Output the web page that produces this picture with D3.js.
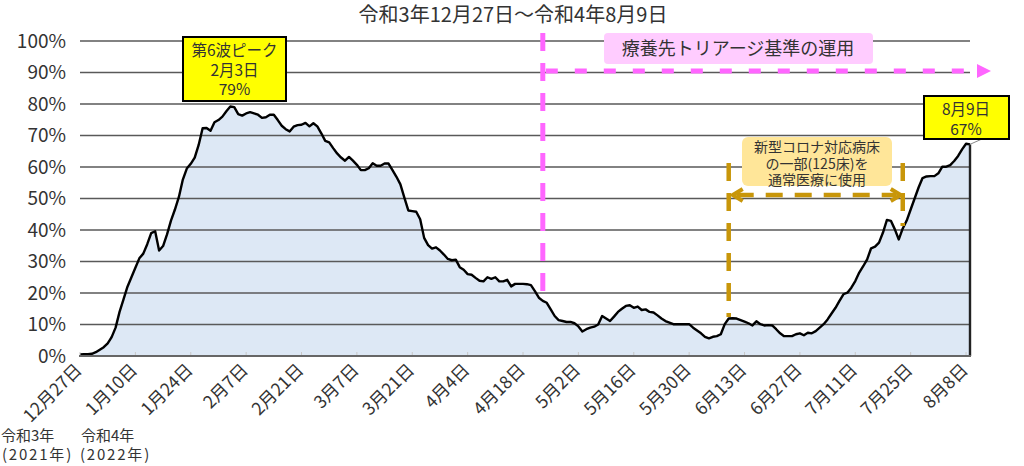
<!DOCTYPE html>
<html>
<head>
<meta charset="utf-8">
<script src="https://d3js.org/d3.v7.min.js"></script>
<style>
  body { margin: 0; background: #fff; }
  svg text { font-family: "Noto Sans CJK JP", sans-serif; fill: #333; }
</style>
</head>
<body>
<script>
// 病床使用率(%)  令和3年12月27日から1日ごと
var rates = [
  // 12/27
  0.5, 0.6, 0.6, 0.7, 1.2, 2.0, 2.8, 4.0, 6.0, 9.0, 14.0, 18.0, 22.0, 25.0,
  // 1/10
  28.0, 31.0, 32.5, 35.5, 39.0, 39.6, 33.5, 34.9, 38.6, 43.0, 46.5, 50.5, 56.0, 59.5,
  // 1/24
  61.0, 63.0, 67.0, 72.3, 72.4, 71.5, 74.2, 74.9, 76.0, 77.7, 79.2, 79.0, 76.8, 76.3,
  // 2/7
  77.0, 77.4, 77.0, 76.6, 75.6, 75.8, 76.6, 76.6, 74.9, 73.1, 72.0, 71.3, 72.8, 73.3,
  // 2/21
  73.4, 74.0, 72.9, 73.9, 72.9, 70.7, 68.3, 67.8, 66.0, 64.3, 63.0, 62.0, 63.2, 62.0,
  // 3/7
  60.7, 59.0, 59.0, 59.6, 61.2, 60.4, 60.4, 61.1, 61.1, 59.0, 56.9, 54.5, 50.3, 46.2,
  // 3/21
  46.0, 45.8, 43.4, 37.5, 35.2, 34.1, 34.5, 33.5, 32.2, 30.8, 30.4, 30.6, 28.2, 27.4,
  // 4/4
  26.0, 25.8, 24.8, 23.9, 23.7, 25.0, 24.5, 25.0, 23.7, 23.7, 24.2, 22.1, 22.9, 22.9,
  // 4/18
  22.9, 22.8, 22.5, 20.6, 18.5, 17.5, 16.9, 14.8, 12.7, 11.4, 11.1, 10.8, 10.8, 10.4,
  // 5/2
  9.4, 7.8, 8.5, 9.0, 9.3, 10.0, 12.7, 11.9, 11.1, 12.5, 14.0, 15.0, 15.9, 16.1,
  // 5/16
  15.3, 15.7, 14.6, 14.8, 14.0, 13.8, 12.9, 11.9, 11.1, 10.6, 10.1, 10.1, 10.1, 10.1,
  // 5/30
  10.1, 9.0, 8.1, 7.2, 6.1, 5.6, 6.1, 6.3, 6.9, 10.1, 11.9, 12.0, 11.9, 11.4,
  // 6/13
  10.9, 10.4, 9.7, 11.0, 10.1, 9.7, 9.8, 9.7, 8.5, 7.2, 6.3, 6.3, 6.3, 6.9,
  // 6/27
  7.2, 6.6, 7.4, 7.2, 7.9, 9.0, 10.1, 11.6, 13.5, 15.3, 17.5, 19.6, 20.1, 21.7,
  // 7/11
  23.8, 26.5, 28.5, 30.7, 34.2, 34.7, 36.0, 39.2, 43.2, 42.9, 40.2, 37.0, 40.5, 43.0,
  // 7/25
  46.5, 50.0, 53.5, 56.5, 57.0, 57.1, 57.1, 58.0, 60.1, 60.1, 60.6, 61.9, 63.5, 65.6,
  // 8/8
  67.4, 67.2
];
var yTicks = [0, 10, 20, 30, 40, 50, 60, 70, 80, 90, 100];
var xTickStep = 14;
var xTickLabels = ["12月27日", "1月10日", "1月24日", "2月7日", "2月21日", "3月7日",
  "3月21日", "4月4日", "4月18日", "5月2日", "5月16日", "5月30日", "6月13日",
  "6月27日", "7月11日", "7月25日", "8月8日"];
var eraLabels = [["令和3年", "(2021年)"], ["令和4年", "(2022年)"]];

// 注記の位置(データの日番号)
var peakIndex = 38;          // 2月3日
var triageIndex = 117;       // 療養先トリアージ基準の運用 開始
var bedStart = 164, bedEnd = 208;

var width = 1024, height = 466;
var svg = d3.select("body").append("svg")
  .attr("width", width).attr("height", height);

var x = d3.scaleLinear().domain([0, rates.length - 1]).range([80, 970]);
var y = d3.scaleLinear().domain([0, 100]).range([356, 41]);

// タイトル
svg.append("text")
  .attr("x", 513).attr("y", 22)
  .attr("text-anchor", "middle")
  .style("font-size", "20px")
  .text("令和3年12月27日～令和4年8月9日");

// 面
svg.append("path")
  .datum(rates)
  .attr("fill", "#dde8f5")
  .attr("d", d3.area().x(function (d, i) { return x(i); })
    .y0(y(0)).y1(function (d) { return y(d); }));

// 目盛線
svg.selectAll(".grid")
  .data(yTicks.filter(function (d) { return d > 0; }))
  .enter().append("line")
  .attr("x1", 80).attr("x2", 970)
  .attr("y1", function (d) { return y(d); })
  .attr("y2", function (d) { return y(d); })
  .attr("stroke", "#595959").attr("stroke-width", 1.3);

// y軸ラベル
svg.selectAll(".ylab")
  .data(yTicks)
  .enter().append("text")
  .attr("x", 66).attr("y", function (d) { return y(d); })
  .attr("dy", "0.36em")
  .attr("text-anchor", "end")
  .style("font-size", "19px")
  .text(function (d) { return d + "%"; });

// 折れ線
svg.append("path")
  .datum(rates)
  .attr("fill", "none").attr("stroke", "#000")
  .attr("stroke-width", 2.4).attr("stroke-linejoin", "round")
  .attr("d", d3.line().x(function (d, i) { return x(i); })
    .y(function (d) { return y(d); }));
svg.append("line")
  .attr("x1", x(rates.length - 1)).attr("x2", x(rates.length - 1))
  .attr("y1", y(rates[rates.length - 1])).attr("y2", y(0))
  .attr("stroke", "#222").attr("stroke-width", 2.4);

// x軸
svg.append("line")
  .attr("x1", 79).attr("x2", 971).attr("y1", y(0)).attr("y2", y(0))
  .attr("stroke", "#666").attr("stroke-width", 2);
svg.selectAll(".xtick")
  .data(xTickLabels)
  .enter().append("line")
  .attr("x1", function (d, i) { return x(i * xTickStep); })
  .attr("x2", function (d, i) { return x(i * xTickStep); })
  .attr("y1", y(0) - 4).attr("y2", y(0) - 1)
  .attr("stroke", "#c8c8c8").attr("stroke-width", 1);
svg.selectAll(".xlab")
  .data(xTickLabels)
  .enter().append("text")
  .attr("transform", function (d, i) {
    return "translate(" + (x(i * xTickStep) + 3) + "," + 371 + ") rotate(-45)";
  })
  .attr("text-anchor", "end")
  .style("font-size", "17.5px")
  .text(function (d) { return d; });

// 年の表示
eraLabels.forEach(function (e, i) {
  svg.append("text").attr("x", i === 0 ? 1 : 81).attr("y", 441)
    .style("font-size", "15px").text(e[0]);
  svg.append("text").attr("x", i === 0 ? 2 : 80).attr("y", 460)
    .style("font-size", "15px").style("letter-spacing", "1.8px").text(e[1]);
});

// 療養先トリアージ基準の運用
var pink = "#ff66ff";
svg.append("line")
  .attr("x1", x(triageIndex)).attr("x2", x(triageIndex))
  .attr("y1", 33).attr("y2", 291)
  .attr("stroke", pink).attr("stroke-width", 5)
  .attr("stroke-dasharray", "18,12");
svg.append("line")
  .attr("x1", x(triageIndex) + 3).attr("x2", 979)
  .attr("y1", 71).attr("y2", 71)
  .attr("stroke", pink).attr("stroke-width", 5)
  .attr("stroke-dasharray", "12,17");
svg.append("path")
  .attr("d", "M977,64L991,71L977,78Z")
  .attr("fill", pink);
svg.append("rect")
  .attr("x", 604).attr("y", 33).attr("width", 269).attr("height", 31)
  .attr("rx", 4).attr("fill", "#ffccff");
svg.append("text")
  .attr("x", 738).attr("y", 55)
  .attr("text-anchor", "middle")
  .style("font-size", "18px")
  .text("療養先トリアージ基準の運用");

// 新型コロナ対応病床の一部を通常医療に使用
var gold = "#c8960a";
svg.append("line")
  .attr("x1", x(bedStart)).attr("x2", x(bedStart))
  .attr("y1", 163).attr("y2", 317)
  .attr("stroke", gold).attr("stroke-width", 4.5)
  .attr("stroke-dasharray", "18,12");
svg.append("line")
  .attr("x1", x(bedEnd)).attr("x2", x(bedEnd))
  .attr("y1", 163).attr("y2", 226)
  .attr("stroke", gold).attr("stroke-width", 4.5)
  .attr("stroke-dasharray", "18,12");
svg.append("line")
  .attr("x1", x(bedStart) + 8).attr("x2", x(bedEnd) - 6)
  .attr("y1", 195).attr("y2", 195)
  .attr("stroke", gold).attr("stroke-width", 4.5)
  .attr("stroke-dasharray", "17,12");
svg.append("path")
  .attr("d", "M" + (x(bedStart) + 14) + ",189L" + (x(bedStart) + 4) + ",195L" + (x(bedStart) + 14) + ",201")
  .attr("fill", "none").attr("stroke", gold).attr("stroke-width", 4);
svg.append("path")
  .attr("d", "M" + (x(bedEnd) - 12) + ",189L" + (x(bedEnd) - 2) + ",195L" + (x(bedEnd) - 12) + ",201")
  .attr("fill", "none").attr("stroke", gold).attr("stroke-width", 4);
svg.append("rect")
  .attr("x", 742).attr("y", 137).attr("width", 150).attr("height", 49)
  .attr("rx", 6).attr("fill", "#ffe699");
["新型コロナ対応病床", "の一部(125床)を", "通常医療に使用"].forEach(function (t, i) {
  svg.append("text")
    .attr("x", 817).attr("y", 152 + i * 16.5)
    .attr("text-anchor", "middle")
    .style("font-size", "14px")
    .text(t);
});

// ピークの吹き出し
svg.append("rect")
  .attr("x", 183).attr("y", 37).attr("width", 103).attr("height", 64)
  .attr("fill", "#ffff00").attr("stroke", "#000").attr("stroke-width", 2);
["第6波ピーク", "2月3日", rates[peakIndex].toFixed(0) + "%"].forEach(function (t, i) {
  svg.append("text")
    .attr("x", 234.5).attr("y", 56 + i * 19.5)
    .attr("text-anchor", "middle")
    .style("font-size", "15.5px")
    .text(t);
});

// 最新値の吹き出し
var last = rates.length - 1;
svg.append("line")
  .attr("x1", 982).attr("y1", 139)
  .attr("x2", x(last)).attr("y2", y(rates[last]))
  .attr("stroke", "#888").attr("stroke-width", 1);
svg.append("rect")
  .attr("x", 924).attr("y", 96).attr("width", 85).attr("height", 43)
  .attr("fill", "#ffff00").attr("stroke", "#000").attr("stroke-width", 2);
["8月9日", rates[last].toFixed(0) + "%"].forEach(function (t, i) {
  svg.append("text")
    .attr("x", 966).attr("y", 115 + i * 19.5)
    .attr("text-anchor", "middle")
    .style("font-size", "15.5px")
    .text(t);
});
</script>
</body>
</html>
